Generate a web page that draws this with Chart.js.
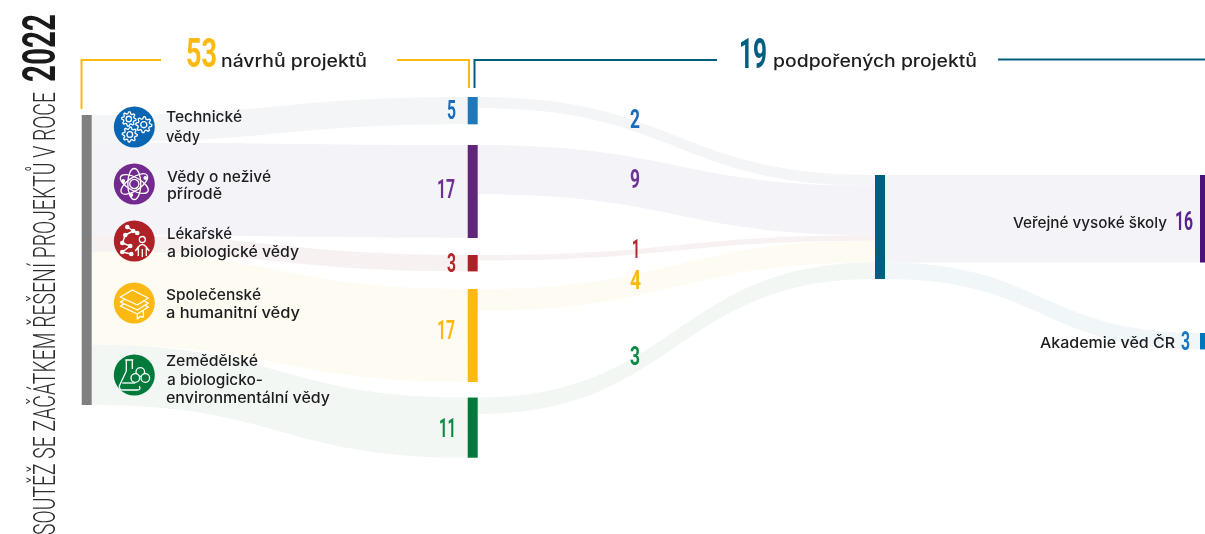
<!DOCTYPE html>
<html lang="cs">
<head>
<meta charset="utf-8">
<title>Soutěž se začátkem řešení projektů v roce 2022</title>
<script src="https://cdn.jsdelivr.net/npm/chart.js@4/dist/chart.umd.js"></script>
<style>
html,body{margin:0;padding:0;background:#fff;overflow:hidden}
canvas{display:block}
</style>
</head>
<body>
<canvas id="c" width="1205" height="534"></canvas>
<script>
// ---------- data ----------
const year = '2022';
const sideTitle = 'SOUTĚŽ SE ZAČÁTKEM ŘEŠENÍ PROJEKTŮ V ROCE';
const totalProposed = 53;
const totalSupported = 19;
const proposedCaption = 'návrhů projektů';
const supportedCaption = 'podpořených projektů';
const fieldNames = [
  ['Technické', 'vědy'],
  ['Vědy o neživé', 'přírodě'],
  ['Lékařské', 'a biologické vědy'],
  ['Společenské', 'a humanitní vědy'],
  ['Zemědělské', 'a biologicko-', 'environmentální vědy']
];
const proposals = [5, 17, 3, 17, 11];
const supported = [2, 9, 1, 4, 3];
const recipients = ['Veřejné vysoké školy', 'Akademie věd ČR'];
const recipientProjects = [16, 3];

// ---------- layout (x in px, y in project units) ----------
const colX = [86.7, 472.7, 880, 1205];
const barW = 10;
const leftTop = 21.03;
const fieldTops = [17.73, 26.5, 46.62, 52.83, 72.68];
const hubTop = 32;
const recipientTops = [32, 60.88];
const pxPerUnit = 5.47;

const C = {
  grey:'#808080', teal:'#005f80', dark:'#1d1d1f',
  bars:['#1f78b8','#60267a','#ae2127','#fdb913','#007a3a'],
  text:['#1a6cb8','#6b3291','#b1282d','#fdb913','#0e8a45'],
  flow:['#f3f5f7','#f4f3f8','#f8f1f2','#fefbf3','#f2f7f3'],
  icon:['#0a66b3','#732a8f','#ae2127','#fdb913','#007a3a'],
  rec:['#4b1279','#0077bb'], recText:['#5a2290','#1a78c2'], recFlow:['#f4f3f8','#f1f6f9']
};

// ---------- bars ----------
const leftBar = [{x: colX[0], y: [leftTop, leftTop + totalProposed]}];
const fieldBars = proposals.map((v, i) => ({x: colX[1], y: [fieldTops[i], fieldTops[i] + v]}));
const hubBar = [{x: colX[2], y: [hubTop, hubTop + totalSupported]}];
const recBars = recipientProjects.map((v, i) => ({x: colX[3], y: [recipientTops[i], recipientTops[i] + v]}));

// ---------- helpers ----------
function fitText(ctx, s, x, y, w, font, color, align) {
  ctx.save();
  ctx.font = font; ctx.fillStyle = color; ctx.textAlign = 'left'; ctx.textBaseline = 'alphabetic';
  const m = ctx.measureText(s).width;
  const k = w / m;
  const x0 = align === 'right' ? x - w : x;
  ctx.translate(x0, y); ctx.scale(k, 1);
  ctx.fillText(s, 0, 0);
  ctx.restore();
}
function band(ctx, x0, t0, b0, x1, t1, b1, color) {
  const xm = (x0 + x1) / 2;
  ctx.beginPath();
  ctx.moveTo(x0, t0);
  ctx.bezierCurveTo(xm, t0, xm, t1, x1, t1);
  ctx.lineTo(x1, b1);
  ctx.bezierCurveTo(xm, b1, xm, b0, x0, b0);
  ctx.closePath();
  ctx.fillStyle = color; ctx.fill();
}
function gear(ctx, cx, cy, r) {
  const n = 8; ctx.beginPath();
  for (let i = 0; i < n * 4; i++) {
    const a = i / (n * 4) * Math.PI * 2;
    const R = (i % 4 === 0 || i % 4 === 1) ? r : r * 0.74;
    const px = cx + R * Math.cos(a), py = cy + R * Math.sin(a);
    i ? ctx.lineTo(px, py) : ctx.moveTo(px, py);
  }
  ctx.closePath(); ctx.stroke();
  ctx.beginPath(); ctx.arc(cx, cy, r * 0.38, 0, 7); ctx.stroke();
}
const icons = [
  (ctx) => { gear(ctx,-5.5,-8,7.2); gear(ctx,9.5,-2.3,8); gear(ctx,-4.5,7.5,7.5); },
  (ctx) => {
    [0.5,-0.6,1.57].forEach(a => { ctx.beginPath(); ctx.ellipse(0,0,15.5,6.5,a,0,7); ctx.stroke(); });
    ctx.beginPath(); ctx.arc(0,0,4.6,0,7); ctx.stroke();
    [[-11,-3],[11,-6],[-3,11]].forEach(p => { ctx.beginPath(); ctx.arc(p[0],p[1],1.9,0,7); ctx.fillStyle='#fff'; ctx.fill(); });
  },
  (ctx) => {
    const pts = [[-7,-14],[-1,-10],[-9,-6],[-12,2],[-4,5],[-12,11],[-3,13],[3,-8]];
    ctx.lineWidth = 1.5;
    ctx.beginPath(); ctx.moveTo(-7,-14); ctx.lineTo(-1,-10); ctx.lineTo(3,-8); ctx.moveTo(-1,-10); ctx.lineTo(-9,-6); ctx.lineTo(-12,2); ctx.lineTo(-4,5); ctx.lineTo(-12,11); ctx.lineTo(-3,13); ctx.stroke();
    pts.forEach(p => { ctx.beginPath(); ctx.arc(p[0],p[1],2.3,0,7); ctx.fillStyle='#fff'; ctx.fill(); });
    ctx.lineWidth = 1.3;
    ctx.beginPath(); ctx.arc(8,-1.5,3,0,7); ctx.stroke();
    ctx.beginPath(); ctx.moveTo(4,15); ctx.lineTo(4,6); ctx.lineTo(1,10); ctx.moveTo(4,6); ctx.quadraticCurveTo(8,1,12,6); ctx.lineTo(15,10); ctx.moveTo(12,6); ctx.lineTo(12,15); ctx.moveTo(8,8); ctx.lineTo(8,16); ctx.stroke();
  },
  (ctx) => {
    const layer = (dy) => { ctx.beginPath(); ctx.moveTo(-14,-3+dy); ctx.lineTo(-2,-10+dy); ctx.lineTo(14,-2+dy); ctx.lineTo(3,5+dy); ctx.closePath(); ctx.fillStyle=C.icon[3]; ctx.fill(); ctx.stroke(); };
    layer(6); layer(2); layer(-3);
    ctx.beginPath(); ctx.moveTo(3,11); ctx.lineTo(3,16); ctx.lineTo(6,13.5); ctx.lineTo(9,14); ctx.lineTo(9,8); ctx.stroke();
  },
  (ctx) => {
    ctx.beginPath(); ctx.moveTo(-9,-15); ctx.lineTo(-1,-15); ctx.moveTo(-8,-15); ctx.lineTo(-8,-4); ctx.lineTo(-15,11); ctx.quadraticCurveTo(-15,15,-12,15); ctx.lineTo(3,15); ctx.quadraticCurveTo(7,15,5,11); ctx.moveTo(-2,-15); ctx.lineTo(-2,-6); ctx.stroke();
    ctx.beginPath(); ctx.moveTo(-12,8); ctx.lineTo(1,8); ctx.stroke();
    [[6,-3],[1,3],[11,3]].forEach(p => { ctx.beginPath(); ctx.arc(p[0],p[1],4.3,0,7); ctx.fillStyle=C.icon[4]; ctx.fill(); ctx.stroke(); });
  }
];
const iconY = [127, 184, 241, 303, 375];
const iconX = 134.3;
const fieldLabelPos = [
  [[166,122,76],[166,142,34]],
  [[167,182,104],[167,199,55]],
  [[167,239,65],[167,257,132]],
  [[166,300,95],[166,318,134]],
  [[166,366,92],[167,385,96],[166,403,164]]
];
const proposalLabelPos = [[456,119,9],[455,198,18],[456,272,9],[455,339,18],[456,437,17]];
const supportedLabelPos = [[640,128,10],[640,188,10],[640,258,8],[641,289,11],[640,365,10]];
const bodyFont = '500 15px Inter, "Noto Sans", sans-serif';
const numFont = 'bold 25.5px Roboto, "Liberation Sans", sans-serif';

const sankeyPlugin = {
  id: 'sankey',
  beforeDatasetsDraw(chart) {
    const {ctx, scales:{x, y}} = chart;
    const X = v => x.getPixelForValue(v), Y = v => y.getPixelForValue(v);
    ctx.save();
    let s = leftTop;
    proposals.forEach((v, i) => {
      band(ctx, X(colX[0]) + barW/2, Y(s), Y(s+v), X(colX[1]) - barW/2, Y(fieldTops[i]), Y(fieldTops[i]+v), C.flow[i]);
      s += v;
    });
    s = hubTop;
    supported.forEach((v, i) => {
      band(ctx, X(colX[1]) + barW/2, Y(fieldTops[i]), Y(fieldTops[i]+v), X(colX[2]) - barW/2, Y(s), Y(s+v), C.flow[i]);
      s += v;
    });
    s = hubTop;
    recipientProjects.forEach((v, i) => {
      band(ctx, X(colX[2]) + barW/2, Y(s), Y(s+v), X(colX[3]) - barW/2, Y(recipientTops[i]), Y(recipientTops[i]+v), C.recFlow[i]);
      s += v;
    });
    ctx.restore();
  },
  afterDatasetsDraw(chart) {
    const {ctx} = chart;
    ctx.save();
    ctx.lineWidth = 2; ctx.lineCap = 'butt';
    ctx.strokeStyle = C.bars[3];
    ctx.beginPath(); ctx.moveTo(81.5,109); ctx.lineTo(81.5,60); ctx.lineTo(161,60); ctx.stroke();
    ctx.beginPath(); ctx.moveTo(397,60); ctx.lineTo(469,60); ctx.lineTo(469,88); ctx.stroke();
    ctx.strokeStyle = C.teal;
    ctx.beginPath(); ctx.moveTo(474.5,88); ctx.lineTo(474.5,60); ctx.lineTo(717,60); ctx.stroke();
    ctx.beginPath(); ctx.moveTo(998,59.5); ctx.lineTo(1205,59.5); ctx.stroke();
    fitText(ctx, String(totalProposed), 186, 67, 31, 'bold 40px Roboto, "Liberation Sans", sans-serif', C.bars[3]);
    fitText(ctx, proposedCaption, 221, 67, 146, '500 17px Inter, "Noto Sans", sans-serif', C.dark);
    fitText(ctx, String(totalSupported), 739, 68, 28, 'bold 42px Roboto, "Liberation Sans", sans-serif', C.teal);
    fitText(ctx, supportedCaption, 773, 67, 204, '500 17px Inter, "Noto Sans", sans-serif', C.dark);
    ctx.save();
    ctx.translate(55, 535); ctx.rotate(-Math.PI/2);
    fitText(ctx, sideTitle, 0, 0, 443, '300 31px Roboto, "Liberation Sans Narrow", sans-serif', '#2e2e30');
    fitText(ctx, year, 453, 0, 68, 'bold 47px Roboto, "Liberation Sans Narrow", sans-serif', '#1a1a1a');
    ctx.restore();
    icons.forEach((draw, i) => {
      ctx.save();
      ctx.translate(iconX, iconY[i]);
      ctx.beginPath(); ctx.arc(0,0,20.5,0,7); ctx.fillStyle = C.icon[i]; ctx.fill();
      ctx.strokeStyle = '#fff'; ctx.lineWidth = 1.3; ctx.lineJoin = 'round';
      draw(ctx);
      ctx.restore();
    });
    fieldNames.forEach((lines, i) => lines.forEach((t, j) => {
      const p = fieldLabelPos[i][j];
      fitText(ctx, t, p[0], p[1], p[2], bodyFont, C.dark);
    }));
    proposals.forEach((v, i) => { const p = proposalLabelPos[i]; fitText(ctx, String(v), p[0], p[1], p[2], numFont, C.text[i], 'right'); });
    supported.forEach((v, i) => { const p = supportedLabelPos[i]; fitText(ctx, String(v), p[0], p[1], p[2], numFont, C.text[i], 'right'); });
    fitText(ctx, recipients[0], 1167, 228, 154, bodyFont, C.dark, 'right');
    fitText(ctx, recipients[1], 1175, 348, 135, bodyFont, C.dark, 'right');
    fitText(ctx, String(recipientProjects[0]), 1193, 230, 18, numFont, C.recText[0], 'right');
    fitText(ctx, String(recipientProjects[1]), 1190, 350, 9, numFont, C.recText[1], 'right');
    ctx.restore();
  }
};

new Chart(document.getElementById('c'), {
  type: 'bar',
  data: {
    datasets: [
      {label:'Návrhy', data:leftBar, backgroundColor:C.grey},
      {label:'Obory', data:fieldBars, backgroundColor:C.bars},
      {label:'Podpořené', data:hubBar, backgroundColor:C.teal},
      {label:'Příjemci', data:recBars, backgroundColor:C.rec}
    ].map(d => Object.assign(d, {barThickness:barW, grouped:false, borderWidth:0, inflateAmount:0}))
  },
  options: {
    responsive:false, animation:false, devicePixelRatio:1,
    layout:{padding:0},
    plugins:{legend:{display:false}, tooltip:{enabled:false}, title:{display:false}},
    scales:{
      x:{type:'linear', min:0, max:1205, display:false, offset:false},
      y:{type:'linear', min:0, max:534/pxPerUnit, reverse:true, display:false}
    }
  },
  plugins:[sankeyPlugin]
});
</script>
</body>
</html>
